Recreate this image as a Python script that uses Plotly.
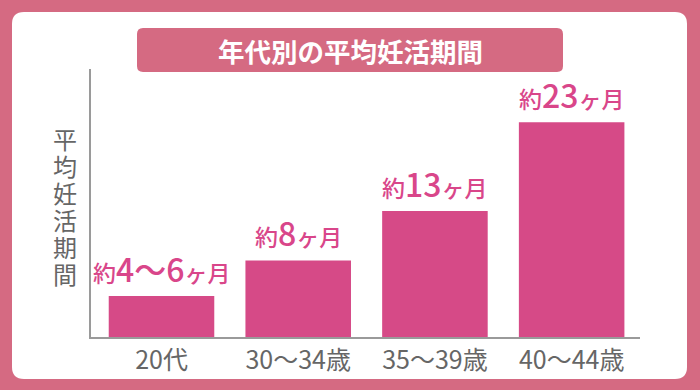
import plotly.graph_objects as go

# ---- data ----
categories = ["20代", "30〜34歳", "35〜39歳", "40〜44歳"]
months = [4.4, 8.2, 13.5, 23.0]          # bar heights
label_prefix = ["約", "約", "約", "約"]
label_number = ["4〜6", "8", "13", "23"]
label_suffix = ["ヶ月", "ヶ月", "ヶ月", "ヶ月"]
title_text = "年代別の平均妊活期間"
y_title = "平均妊活期間"

# ---- layout geometry (pixels) ----
W, H = 700, 390
PL, PR, PT, PB = 91, 640, 69, 337   # plot area in pixels

FONT = "Noto Sans CJK JP"
BAR = "#D64A87"
PINK_BG = "#D56A82"
TEXT_PINK = "#D9468A"
GRAY = "#666666"


def px(x):
    return (x - PL) / (PR - PL)


def py(y):
    return (PB - y) / (PB - PT)


def rounded(x0, y0, x1, y1, r):
    P = lambda x, y: f"{px(x):.5f},{py(y):.5f}"
    return " ".join([
        f"M {P(x0 + r, y0)}", f"L {P(x1 - r, y0)}", f"Q {P(x1, y0)} {P(x1, y0 + r)}",
        f"L {P(x1, y1 - r)}", f"Q {P(x1, y1)} {P(x1 - r, y1)}", f"L {P(x0 + r, y1)}",
        f"Q {P(x0, y1)} {P(x0, y1 - r)}", f"L {P(x0, y0 + r)}", f"Q {P(x0, y0)} {P(x0 + r, y0)} Z",
    ])


fig = go.Figure()
fig.add_trace(go.Bar(
    x=categories, y=months, marker=dict(color=BAR, line=dict(width=0)),
    hoverinfo="skip", showlegend=False,
))

shapes = [
    dict(type="path", xref="paper", yref="paper", layer="below",
         path=rounded(12, 12, 687, 379, 12), fillcolor="#FFFFFF", line=dict(width=0)),
    dict(type="path", xref="paper", yref="paper", layer="below",
         path=rounded(137, 28, 563, 72, 6), fillcolor=PINK_BG, line=dict(width=0)),
]

annotations = [
    dict(x=px(350), y=py(50), xref="paper", yref="paper", text=f"<b>{title_text}</b>",
         showarrow=False, font=dict(family=FONT, size=26.5, color="#FFFFFF"),
         xanchor="center", yanchor="middle"),
]
# vertical axis title, one character per line
for i, ch in enumerate(y_title):
    annotations.append(dict(
        x=px(65), y=py(138 + 27 * i), xref="paper", yref="paper", text=ch,
        showarrow=False, font=dict(family=FONT, size=24, color=GRAY),
        xanchor="center", yanchor="middle"))

for c, v, a, n, s in zip(categories, months, label_prefix, label_number, label_suffix):
    annotations.append(dict(
        x=c, y=v, xref="x", yref="y", showarrow=False, yanchor="bottom", xanchor="center",
        yshift=3,
        text=f'{a}<span style="font-size:32px">{n}</span>{s}',
        font=dict(family=FONT, size=23, color=TEXT_PINK, weight=500),
    ))

fig.update_layout(
    width=W, height=H,
    margin=dict(l=PL, r=W - PR, t=PT, b=H - PB, pad=0),
    paper_bgcolor=PINK_BG, plot_bgcolor="rgba(0,0,0,0)",
    bargap=0.228,
    shapes=shapes, annotations=annotations,
    font=dict(family=FONT),
)
fig.update_xaxes(showline=True, linecolor="#9A9A9A", linewidth=1.5, ticks="",
                 tickfont=dict(family=FONT, size=25, color=GRAY), showgrid=False)
fig.update_yaxes(range=[0, 28.7], showline=True, linecolor="#9A9A9A", linewidth=1.5,
                 showticklabels=False, ticks="", showgrid=False, zeroline=False)

fig.write_html("out.html")
